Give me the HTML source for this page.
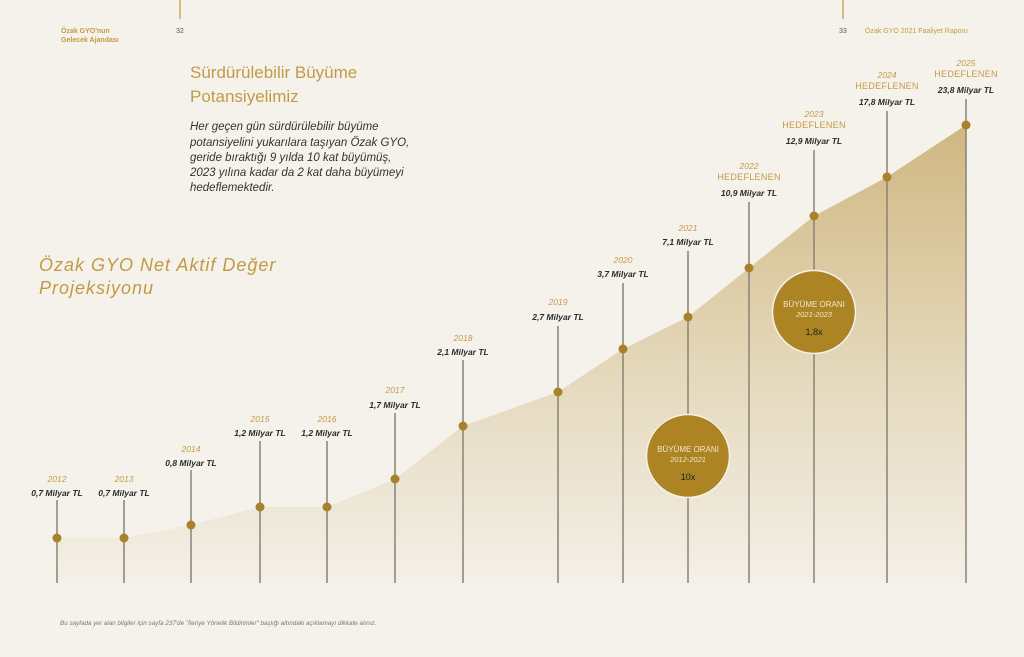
<!DOCTYPE html>
<html><head><meta charset="utf-8"><style>
html,body{margin:0;padding:0;background:#f5f2eb;}
svg{display:block;font-family:"Liberation Sans",sans-serif;}
.yr{fill:#c29a45;font-size:8.5px;font-style:italic;text-anchor:middle}
.hd{fill:#c29a45;font-size:9px;text-anchor:middle;letter-spacing:0.3px}
.vl{fill:#2b2b2b;font-size:8.5px;font-style:italic;font-weight:bold;text-anchor:middle}
</style></head><body>
<svg width="1024" height="657" viewBox="0 0 1024 657" xmlns="http://www.w3.org/2000/svg">
<defs>
<linearGradient id="g" x1="0" y1="125" x2="0" y2="585" gradientUnits="userSpaceOnUse">
<stop offset="0" stop-color="#d0b781"/>
<stop offset="0.55" stop-color="#e5d9bd"/>
<stop offset="1" stop-color="#f4f0e8"/>
</linearGradient>
</defs>
<rect width="1024" height="657" fill="#f5f2eb"/>
<line x1="180" y1="0" x2="180" y2="19" stroke="#c29a45" stroke-width="1.2"/>
<line x1="843" y1="0" x2="843" y2="19" stroke="#c29a45" stroke-width="1.2"/>
<text x="61" y="33" fill="#c29a45" font-size="7" font-weight="bold">Özak GYO'nun</text>
<text x="61" y="42" fill="#c29a45" font-size="7" font-weight="bold">Gelecek Ajandası</text>
<text x="176" y="33" fill="#555" font-size="7">32</text>
<text x="839" y="33" fill="#555" font-size="7">33</text>
<text x="865" y="33" fill="#c29a45" font-size="7">Özak GYO 2021 Faaliyet Raporu</text>
<text x="190" y="78" fill="#c29a45" font-size="17">Sürdürülebilir Büyüme</text>
<text x="190" y="102" fill="#c29a45" font-size="17">Potansiyelimiz</text>
<g fill="#333" font-size="11.5" font-style="italic">
<text x="190" y="130">Her geçen gün sürdürülebilir büyüme</text>
<text x="190" y="146">potansiyelini yukarılara taşıyan Özak GYO,</text>
<text x="190" y="161">geride bıraktığı 9 yılda 10 kat büyümüş,</text>
<text x="190" y="176">2023 yılına kadar da 2 kat daha büyümeyi</text>
<text x="190" y="191">hedeflemektedir.</text>
</g>
<text x="39" y="271" fill="#c29a45" font-size="18" font-style="italic" letter-spacing="1">Özak GYO Net Aktif Değer</text>
<text x="39" y="294" fill="#c29a45" font-size="18" font-style="italic" letter-spacing="1">Projeksiyonu</text>

<polygon fill="url(#g)" points="57,538 124,538 191,525 260,507 327,507 395,479 463,426 558,392 623,349 688,317 749,268 814,216 887,177 966,125 966,585 57,585"/>

<g stroke="#8a8275" stroke-width="1.5">
<line x1="57" y1="500" x2="57" y2="583"/>
<line x1="124" y1="500" x2="124" y2="583"/>
<line x1="191" y1="470" x2="191" y2="583"/>
<line x1="260" y1="441" x2="260" y2="583"/>
<line x1="327" y1="441" x2="327" y2="583"/>
<line x1="395" y1="413" x2="395" y2="583"/>
<line x1="463" y1="360" x2="463" y2="583"/>
<line x1="558" y1="326" x2="558" y2="583"/>
<line x1="623" y1="283" x2="623" y2="583"/>
<line x1="688" y1="251" x2="688" y2="583"/>
<line x1="749" y1="202" x2="749" y2="583"/>
<line x1="814" y1="150" x2="814" y2="583"/>
<line x1="887" y1="111" x2="887" y2="583"/>
<line x1="966" y1="99" x2="966" y2="583"/>
</g>
<g fill="#a9812a">
<circle cx="57" cy="538" r="4.5"/><circle cx="124" cy="538" r="4.5"/><circle cx="191" cy="525" r="4.5"/>
<circle cx="260" cy="507" r="4.5"/><circle cx="327" cy="507" r="4.5"/><circle cx="395" cy="479" r="4.5"/>
<circle cx="463" cy="426" r="4.5"/><circle cx="558" cy="392" r="4.5"/><circle cx="623" cy="349" r="4.5"/>
<circle cx="688" cy="317" r="4.5"/><circle cx="749" cy="268" r="4.5"/><circle cx="814" cy="216" r="4.5"/>
<circle cx="887" cy="177" r="4.5"/><circle cx="966" cy="125" r="4.5"/>
</g>

<text class="yr" x="57" y="482">2012</text><text class="vl" x="57" y="496">0,7 Milyar TL</text>
<text class="yr" x="124" y="482">2013</text><text class="vl" x="124" y="496">0,7 Milyar TL</text>
<text class="yr" x="191" y="452">2014</text><text class="vl" x="191" y="466">0,8 Milyar TL</text>
<text class="yr" x="260" y="422">2015</text><text class="vl" x="260" y="436">1,2 Milyar TL</text>
<text class="yr" x="327" y="422">2016</text><text class="vl" x="327" y="436">1,2 Milyar TL</text>
<text class="yr" x="395" y="393">2017</text><text class="vl" x="395" y="408">1,7 Milyar TL</text>
<text class="yr" x="463" y="341">2018</text><text class="vl" x="463" y="355">2,1 Milyar TL</text>
<text class="yr" x="558" y="305">2019</text><text class="vl" x="558" y="320">2,7 Milyar TL</text>
<text class="yr" x="623" y="263">2020</text><text class="vl" x="623" y="277">3,7 Milyar TL</text>
<text class="yr" x="688" y="231">2021</text><text class="vl" x="688" y="245">7,1 Milyar TL</text>
<text class="yr" x="749" y="169">2022</text><text class="hd" x="749" y="180">HEDEFLENEN</text><text class="vl" x="749" y="196">10,9 Milyar TL</text>
<text class="yr" x="814" y="117">2023</text><text class="hd" x="814" y="128">HEDEFLENEN</text><text class="vl" x="814" y="144">12,9 Milyar TL</text>
<text class="yr" x="887" y="78">2024</text><text class="hd" x="887" y="89">HEDEFLENEN</text><text class="vl" x="887" y="105">17,8 Milyar TL</text>
<text class="yr" x="966" y="66">2025</text><text class="hd" x="966" y="77">HEDEFLENEN</text><text class="vl" x="966" y="93">23,8 Milyar TL</text>

<circle cx="688" cy="456" r="41.5" fill="#ad8424" stroke="#f5f2eb" stroke-width="1.5"/>
<text x="688" y="452" fill="#f1e6c8" font-size="8" text-anchor="middle">BÜYÜME ORANI</text>
<text x="688" y="462" fill="#f1e6c8" font-size="7.5" font-style="italic" text-anchor="middle">2012-2021</text>
<text x="688" y="480" fill="#222" font-size="9" text-anchor="middle">10x</text>

<circle cx="814" cy="312" r="41.5" fill="#ad8424" stroke="#f5f2eb" stroke-width="1.5"/>
<text x="814" y="307" fill="#f1e6c8" font-size="8" text-anchor="middle">BÜYÜME ORANI</text>
<text x="814" y="317" fill="#f1e6c8" font-size="7.5" font-style="italic" text-anchor="middle">2021-2023</text>
<text x="814" y="335" fill="#222" font-size="9" text-anchor="middle">1,8x</text>

<text x="60" y="625" fill="#777" font-size="6.3" font-style="italic">Bu sayfada yer alan bilgiler için sayfa 237'de "İleriye Yönelik Bildirimler" başlığı altındaki açıklamayı dikkate alınız.</text>
</svg>
</body></html>
